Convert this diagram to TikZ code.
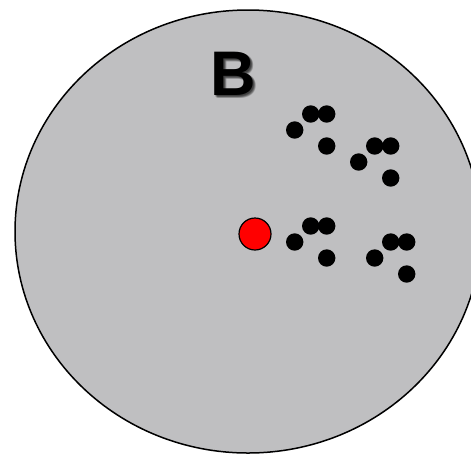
\documentclass[tikz,border=0pt]{standalone}
\usepackage{fontspec}
\setmainfont{Liberation Sans}
\usepackage{tikz}
\usetikzlibrary{positioning}
\definecolor{ballgray}{RGB}{191, 191, 193}
\definecolor{pointred}{RGB}{255, 0, 0}

\begin{document}
\begin{tikzpicture}[x=1pt, y=-1pt,
  dot/.style={fill=black},
  letter/.style={font=\fontsize{63}{63}\bfseries\selectfont, inner sep=0pt}]

% Rahmen
\useasboundingbox (0,0) rectangle (471,456);
\clip (0,0) rectangle (471,456);

% Kugel B
\draw[line width=1.5pt, fill=ballgray] (248,231.5) ellipse (233 and 221.5);

% Beschriftung mit weichem Schatten
\foreach \dx/\dy in {1/1, 2/2, 3/3, 2/3, 3/2, 1/2, 2/1} {
  \node[letter, black, opacity=0.14] at (233+\dx,74+\dy) {B};
}
\node[letter] (lbl) at (233,74) {B};

% roter Punkt
\node[circle, draw=black, line width=1.2pt, fill=pointred, minimum size=32pt, inner sep=0pt] (p) at (255,234) {};

% Punktgruppen
\foreach \gx/\gy in {310.7/114, 374.7/146, 310.7/226, 390.7/242} {
  \fill[dot] (\gx,\gy) circle (8.7);
  \fill[dot] (\gx+16,\gy) circle (8.7);
  \fill[dot] (\gx-16,\gy+16) circle (8.7);
  \fill[dot] (\gx+16,\gy+32) circle (8.7);
}

\end{tikzpicture}
\end{document}
